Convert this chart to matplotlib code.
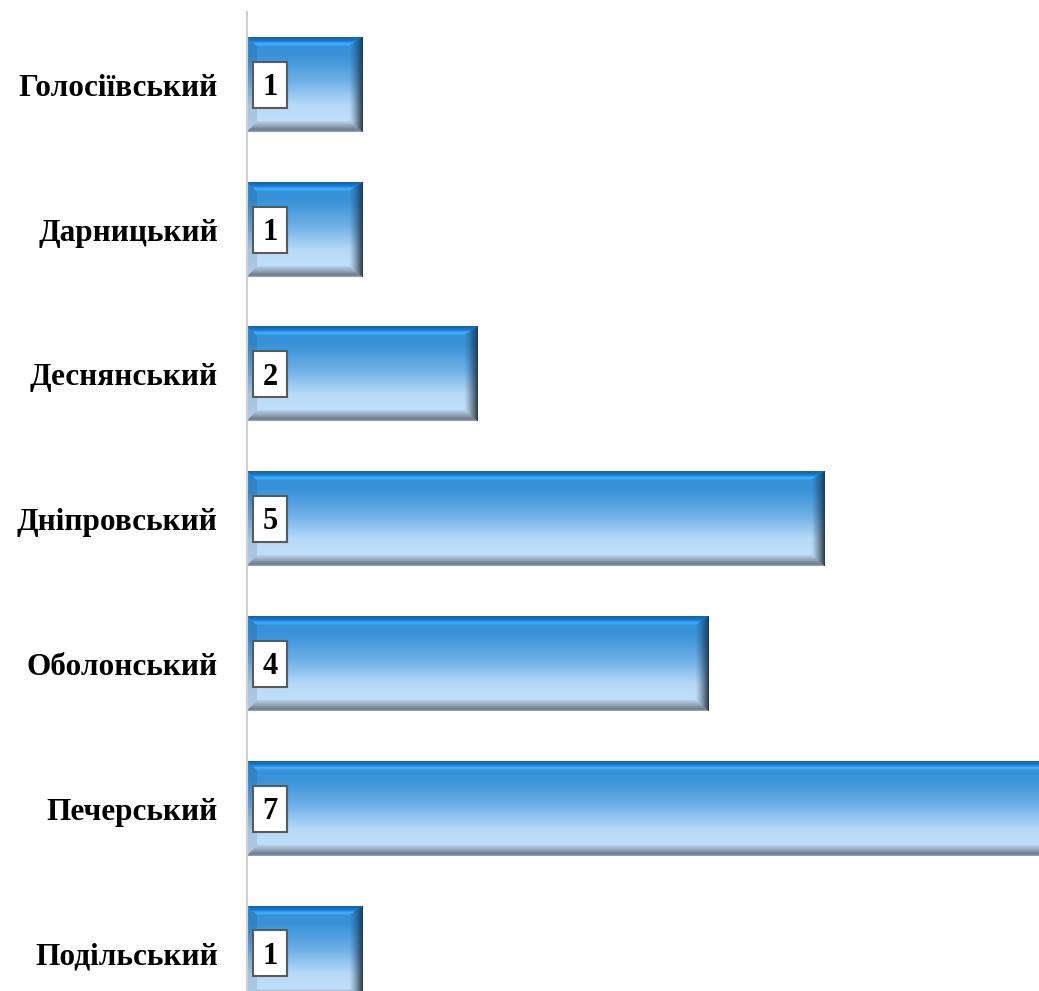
import numpy as np
import matplotlib
matplotlib.use("Agg")
import matplotlib.pyplot as plt
from matplotlib.patches import Rectangle

categories = ["Голосіївський", "Дарницький", "Деснянський", "Дніпровський",
              "Оболонський", "Печерський", "Подільський"]
values = [1, 1, 2, 5, 4, 7, 1]

plt.rcParams['font.family'] = ['Liberation Serif', 'DejaVu Serif']

W, H = 1039, 991
fig = plt.figure(figsize=(W / 100, H / 100), dpi=100)
ax = fig.add_axes([247 / W, 0, 1 - 247 / W, (991 - 12) / H])

unit_px = 115.5
xmax = (W - 247) / unit_px
bar_h = 0.65

hex2rgb = lambda h: np.array([int(h[i:i + 2], 16) for i in (1, 3, 5)]) / 255.0


def interp(stops, t):
    pos = np.array([s[0] for s in stops])
    cols = np.array([hex2rgb(s[1]) for s in stops])
    return np.stack([np.interp(t, pos, cols[:, k]) for k in range(3)], axis=-1)


interior_stops = [(0.0, "#3590d8"), (0.2, "#3a93d8"), (0.45, "#6aaee6"),
                  (0.72, "#b8daf7"), (1.0, "#c4e2fb")]
top_stops = [(0.0, "#0a62b8"), (0.4, "#1478d0"), (0.75, "#46b0f6"), (1.0, "#3a98de")]
bot_stops = [(0.0, "#bcd3e8"), (0.45, "#94a6b8"), (0.8, "#6c7c8e"), (1.0, "#9aa8b6")]
dark_stops = [(0.0, "#123e66"), (0.5, "#1e3a58"), (1.0, "#2c3640")]


def bar_image(v):
    wpx = max(int(round(v * unit_px)), 10)
    hpx = 94
    bt, bb, bl, br = 9.0, 11.0, 10.0, 14.0
    yy, xx = np.mgrid[0:hpx, 0:wpx] + 0.5
    ty = yy / hpx
    inter = interp(interior_stops, ty)
    img = inter.copy()
    n = np.stack([yy / bt, (hpx - yy) / bb, xx / bl, (wpx - xx) / br])
    idx = np.argmin(n, axis=0)
    nmin = np.min(n, axis=0)
    in_bev = nmin < 1.0
    m = in_bev & (idx == 0)
    img[m] = interp(top_stops, n[0][m])
    m = in_bev & (idx == 1)
    img[m] = interp(bot_stops, 1 - n[1][m])
    m = in_bev & (idx == 3)
    s = (1 - n[3][m]) ** 1.3
    img[m] = inter[m] * (1 - s[:, None]) + interp(dark_stops, ty[m]) * s[:, None]
    m = in_bev & (idx == 2)
    img[m] = np.clip(inter[m] * 0.9, 0, 1)
    return img


box_x0, box_w, box_h = 0.052, 0.294, 0.318
for i, (c, v) in enumerate(zip(categories, values)):
    img = bar_image(v)
    ax.imshow(img, extent=(0, v, i + bar_h / 2, i - bar_h / 2), aspect='auto',
              interpolation='bilinear', zorder=2)
    ax.add_patch(Rectangle((box_x0, i - box_h / 2), box_w, box_h, fc='white',
                           ec='#5a5a5a', lw=1.5, zorder=5))
    ax.annotate(str(v), xy=(box_x0 + box_w / 2, i), xytext=(0, -7.4),
                textcoords='offset points', ha='center', va='baseline',
                fontsize=22, fontweight='bold', color='black', zorder=6)

ax.set_xlim(0, xmax)
ax.set_ylim(6.261, 6.261 - (991 - 12) / 144.7)
ax.set_yticks(range(len(categories)))
ax.set_yticklabels(categories, fontsize=22.5, fontweight='bold')
ax.tick_params(axis='y', length=0, pad=21)
ax.set_xticks([])
for s in ['top', 'right', 'bottom']:
    ax.spines[s].set_visible(False)
ax.spines['left'].set_color('#d0d0d0')
ax.spines['left'].set_linewidth(1.5)

fig.savefig("out.png", dpi=100)
